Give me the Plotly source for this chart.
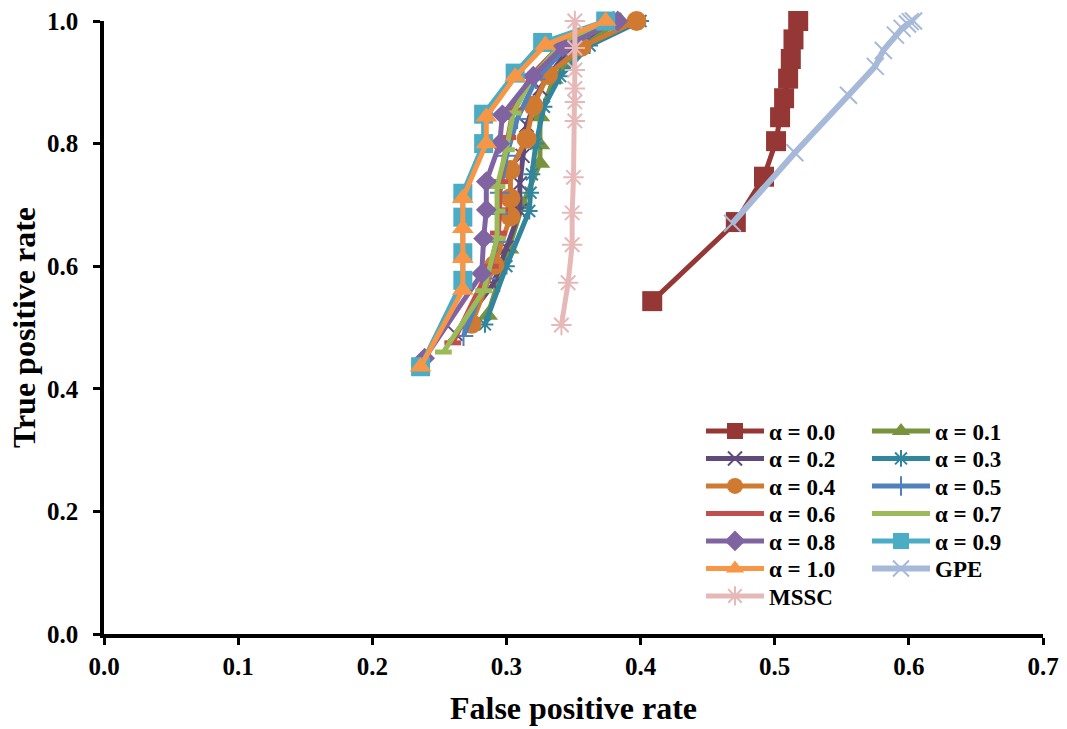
import plotly.graph_objects as go

# ROC points (false positive rate, true positive rate) per method
fpr_a00 = [0.4087, 0.471, 0.492, 0.501, 0.504, 0.507, 0.510, 0.512, 0.514, 0.5175]
tpr_a00 = [0.543, 0.672, 0.746, 0.804, 0.843, 0.874, 0.906, 0.938, 0.970, 1.0]

fpr_a01 = [0.286, 0.302, 0.312, 0.325, 0.325, 0.325, 0.335, 0.355, 0.385]
tpr_a01 = [0.520, 0.628, 0.700, 0.768, 0.798, 0.844, 0.905, 0.958, 1.0]

fpr_a02 = [0.262, 0.290, 0.300, 0.310, 0.310, 0.312, 0.315, 0.325, 0.345, 0.378]
tpr_a02 = [0.490, 0.570, 0.630, 0.690, 0.735, 0.780, 0.830, 0.890, 0.950, 1.0]

fpr_a03 = [0.284, 0.300, 0.317, 0.318, 0.319, 0.322, 0.328, 0.340, 0.362, 0.400]
tpr_a03 = [0.505, 0.600, 0.690, 0.720, 0.750, 0.800, 0.860, 0.910, 0.960, 1.0]

fpr_a04 = [0.274, 0.291, 0.303, 0.303, 0.303, 0.315, 0.320, 0.331, 0.356, 0.397]
tpr_a04 = [0.506, 0.602, 0.681, 0.711, 0.757, 0.808, 0.862, 0.912, 0.958, 1.0]

fpr_a05 = [0.268, 0.285, 0.293, 0.294, 0.295, 0.300, 0.308, 0.322, 0.345, 0.380]
tpr_a05 = [0.486, 0.580, 0.640, 0.685, 0.720, 0.780, 0.840, 0.905, 0.958, 1.0]

fpr_a06 = [0.260, 0.288, 0.294, 0.295, 0.295, 0.301, 0.305, 0.318, 0.340, 0.375]
tpr_a06 = [0.475, 0.600, 0.654, 0.692, 0.738, 0.810, 0.855, 0.910, 0.960, 1.0]

fpr_a07 = [0.253, 0.283, 0.293, 0.293, 0.293, 0.300, 0.305, 0.320, 0.340, 0.378]
tpr_a07 = [0.460, 0.560, 0.645, 0.690, 0.730, 0.790, 0.850, 0.910, 0.960, 1.0]

fpr_a08 = [0.239, 0.2816, 0.283, 0.285, 0.285, 0.295, 0.297, 0.320, 0.342, 0.383]
tpr_a08 = [0.450, 0.588, 0.645, 0.692, 0.738, 0.800, 0.847, 0.910, 0.958, 1.0]

fpr_a09 = [0.236, 0.2675, 0.2675, 0.2675, 0.2675, 0.283, 0.283, 0.3065, 0.327, 0.374]
tpr_a09 = [0.436, 0.577, 0.622, 0.680, 0.719, 0.800, 0.848, 0.915, 0.965, 1.0]

fpr_a10 = [0.236, 0.2675, 0.2675, 0.2675, 0.2675, 0.285, 0.285, 0.3065, 0.329, 0.374]
tpr_a10 = [0.436, 0.561, 0.613, 0.662, 0.711, 0.800, 0.844, 0.909, 0.961, 1.0]

fpr_gpe = [0.4685, 0.515, 0.555, 0.575, 0.581, 0.590, 0.595, 0.599, 0.601, 0.6035]
tpr_gpe = [0.670, 0.785, 0.879, 0.926, 0.952, 0.977, 0.988, 0.995, 0.999, 1.0]

fpr_mssc = [0.341, 0.346, 0.349, 0.349, 0.350, 0.351, 0.351, 0.351, 0.351, 0.351, 0.351]
tpr_mssc = [0.504, 0.573, 0.635, 0.687, 0.745, 0.837, 0.868, 0.890, 0.920, 0.956, 1.0]

series_names = ["α = 0.0", "α = 0.1", "α = 0.2", "α = 0.3", "α = 0.4", "α = 0.5",
                "α = 0.6", "α = 0.7", "α = 0.8", "α = 0.9", "α = 1.0", "GPE", "MSSC"]
series_fpr = [fpr_a00, fpr_a01, fpr_a02, fpr_a03, fpr_a04, fpr_a05, fpr_a06,
              fpr_a07, fpr_a08, fpr_a09, fpr_a10, fpr_gpe, fpr_mssc]
series_tpr = [tpr_a00, tpr_a01, tpr_a02, tpr_a03, tpr_a04, tpr_a05, tpr_a06,
              tpr_a07, tpr_a08, tpr_a09, tpr_a10, tpr_gpe, tpr_mssc]

x_ticks = [0.0, 0.1, 0.2, 0.3, 0.4, 0.5, 0.6, 0.7]
y_ticks = [0.0, 0.2, 0.4, 0.6, 0.8, 1.0]

# colour, marker symbol, marker size, marker outline width, line width
styles = [
    ("#953735", "square", 20, 0, 5),
    ("#77933C", "triangle-up", 18, 0, 5),
    ("#604A7B", "x-thin-open", 14, 2, 5),
    ("#31859C", "asterisk-open", 14, 2, 5),
    ("#CF7A30", "circle", 20, 0, 5),
    ("#4F81BD", "cross-thin-open", 14, 2, 5),
    ("#C0504D", "line-ew-open", 12, 5, 5),
    ("#9BBB59", "line-ew-open", 12, 5, 5),
    ("#8064A2", "diamond", 16, 0, 5),
    ("#4BACC6", "square", 19, 0, 5),
    ("#F79646", "triangle-up", 19, 0, 5),
    ("#A6B9D8", "x-thin-open", 17, 2, 6),
    ("#E6B9B8", "asterisk-open", 17, 2, 5),
]

FONT = "Liberation Serif"
W, H = 1067, 729
M_L, M_R, M_T, M_B = 104, 24, 21, 95
PLOT_W = W - M_L - M_R
PLOT_H = H - M_T - M_B

# Legend grid: two columns, entries filled row by row
LEG_COL_X = [701, 867]      # left edge of each column, px
LEG_ROW0_Y = 431            # centre of first row, px
LEG_ROW_STEP = 27.5         # row pitch, px

fig = go.Figure()
legend_layouts = {}
for i, (name, xs, ys, (color, symbol, size, mlw, lw)) in enumerate(
        zip(series_names, series_fpr, series_tpr, styles)):
    leg_id = "legend" if i == 0 else f"legend{i + 1}"
    row, col = divmod(i, 2)
    px_x = LEG_COL_X[col]
    px_y = LEG_ROW0_Y + row * LEG_ROW_STEP
    legend_layouts[leg_id] = dict(
        x=(px_x - M_L) / PLOT_W, y=(H - M_B - px_y) / PLOT_H,
        xanchor="left", yanchor="middle",
        font=dict(family=FONT, size=23, color="black", weight="bold"),
        bgcolor="rgba(0,0,0,0)", borderwidth=0, itemwidth=58,
    )
    fig.add_trace(go.Scatter(
        x=xs, y=ys, name=name, mode="lines+markers",
        line=dict(color=color, width=lw),
        marker=dict(symbol=symbol, size=size, color=color,
                    line=dict(color=color, width=mlw)),
        cliponaxis=False,
        legend=leg_id,
    ))

axis_common = dict(
    showline=True, linecolor="black", linewidth=3.5,
    ticks="outside", tickcolor="black", tickwidth=2.5, ticklen=7,
    showgrid=False, zeroline=False, tickformat=".1f", automargin=False,
    tickfont=dict(family=FONT, size=25, color="black", weight="bold"),
)

fig.update_xaxes(range=[0, 0.7], tickvals=x_ticks,
                 title=dict(text="False positive rate", standoff=19,
                            font=dict(family=FONT, size=32, color="black", weight="bold")),
                 **axis_common)
fig.update_yaxes(range=[0, 1.0], tickvals=y_ticks, ticklabelstandoff=10,
                 title=dict(text="True positive rate", standoff=3,
                            font=dict(family=FONT, size=32, color="black", weight="bold")),
                 **axis_common)

fig.update_layout(
    width=W, height=H,
    margin=dict(l=M_L, r=M_R, t=M_T, b=M_B, autoexpand=False),
    plot_bgcolor="white", paper_bgcolor="white",
    showlegend=True,
    **legend_layouts,
)

fig.write_html("out.html")
